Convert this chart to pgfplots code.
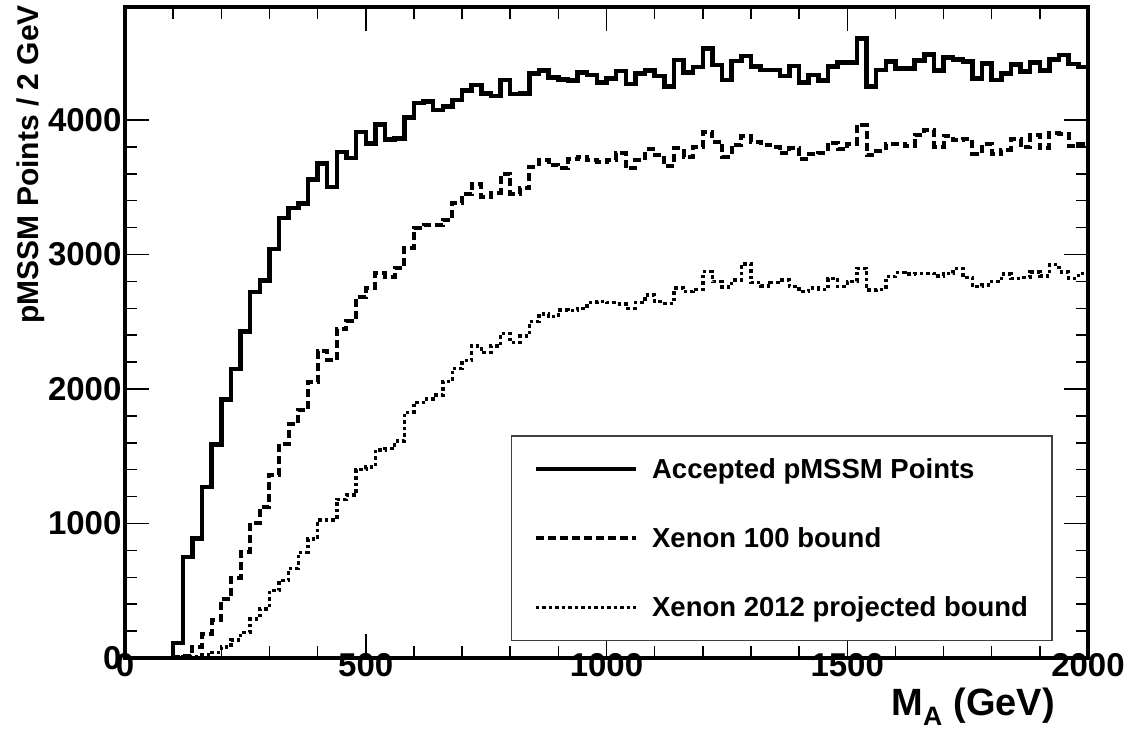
\documentclass[border=0pt]{standalone}
\usepackage{fontspec}
\setmainfont{Liberation Sans}
\usepackage{pgfplots}
\usepackage{pgfplotstable}
\pgfplotsset{compat=1.18}
\pgfplotstableread{
x s d t
0 0 0 0
20 0 0 0
40 0 0 0
60 0 0 0
80 0 0 0
100 110 5 5
120 750 15 10
140 890 82 12
160 1270 176 22
180 1588 284 42
200 1921 442 80
220 2148 592 135
240 2427 789 190
260 2721 1003 290
280 2805 1123 365
300 3041 1361 500
320 3272 1592 578
340 3346 1737 666
360 3380 1843 785
380 3557 2049 884
400 3675 2283 1027
420 3502 2216 1027
440 3761 2443 1180
460 3718 2505 1210
480 3911 2684 1400
500 3825 2750 1420
520 3966 2862 1548
540 3855 2836 1556
560 3861 2897 1612
580 4018 3050 1826
600 4126 3200 1900
620 4136 3219 1927
640 4076 3219 1955
660 4102 3256 2055
680 4149 3385 2154
700 4218 3450 2211
720 4260 3524 2320
740 4198 3430 2270
760 4178 3460 2320
780 4297 3599 2414
800 4193 3450 2344
820 4198 3492 2394
840 4347 3653 2501
860 4367 3703 2558
880 4317 3665 2538
900 4302 3641 2587
920 4292 3708 2582
940 4352 3723 2600
960 4335 3703 2642
980 4278 3690 2650
1000 4310 3703 2642
1020 4364 3752 2632
1040 4268 3641 2600
1060 4347 3703 2642
1080 4367 3782 2699
1100 4327 3740 2650
1120 4248 3658 2637
1140 4446 3790 2749
1160 4352 3728 2724
1180 4392 3802 2741
1200 4532 3913 2872
1220 4409 3839 2798
1240 4297 3728 2760
1260 4437 3815 2810
1280 4476 3881 2929
1300 4397 3839 2791
1320 4372 3815 2766
1340 4372 3797 2791
1360 4327 3752 2810
1380 4402 3790 2761
1400 4280 3708 2724
1420 4335 3747 2749
1440 4292 3757 2741
1460 4397 3831 2823
1480 4426 3782 2761
1500 4426 3822 2798
1520 4607 3963 2897
1540 4248 3740 2736
1560 4372 3772 2741
1580 4434 3822 2835
1600 4384 3822 2865
1620 4384 3807 2855
1640 4441 3889 2860
1660 4488 3926 2860
1680 4367 3802 2840
1700 4466 3881 2860
1720 4451 3851 2897
1740 4434 3856 2830
1760 4310 3747 2761
1780 4421 3822 2773
1800 4297 3747 2798
1820 4347 3777 2855
1840 4414 3856 2823
1860 4359 3797 2830
1880 4426 3889 2870
1900 4367 3790 2840
1920 4451 3901 2924
1940 4483 3896 2870
1960 4416 3807 2823
1980 4392 3822 2860
2000 4392 3822 2860
}\data
\begin{document}
\begin{tikzpicture}
\begin{axis}[
  scale only axis,
  width=963pt, height=651pt,
  xmin=0, xmax=2000, ymin=0, ymax=4840,
  xtick={0,500,...,2000}, ytick={0,1000,...,4000},
  minor x tick num=4, minor y tick num=4,
  major tick length=24pt, minor tick length=12pt,
  tick align=inside,
  tick style={line width=1.5pt, black},
  axis line style={line width=4pt},
  scaled ticks=false,
  /pgf/number format/1000 sep={},
  /pgf/number format/assume math mode=true,
  ticklabel style={font=\fontsize{33}{36}\selectfont\bfseries},
  xticklabel style={yshift=8pt},
  xlabel={M\textsubscript{A} (GeV)},
  xlabel style={at={(axis description cs:0.9657,-0.046)}, anchor=north east, inner sep=0pt, font=\fontsize{38}{40}\selectfont\bfseries},
  ylabel={pMSSM Points / 2 GeV},
  ylabel style={at={(axis description cs:-0.083,1.003)}, anchor=south east, rotate=0, inner sep=0pt, font=\fontsize{30}{32}\selectfont\bfseries},
  legend style={at={(axis description cs:0.4008,0.026)}, anchor=south west,
    draw=black!75, line width=1.3pt, fill=white,
    font=\fontsize{27.5}{30}\selectfont\bfseries,
    row sep=44pt, inner xsep=22pt, inner ysep=20pt},
  legend cell align=left,
  legend image code/.code={\draw[#1] (0pt,0pt) -- (100pt,0pt);},
  /tikz/every odd column/.append style={column sep=12pt},
]
\addplot[const plot, black, line width=4.5pt] table[x=x, y=s]{\data};
\addlegendentry{Accepted pMSSM Points}
\addplot[const plot, black, line width=4pt, dash pattern=on 8pt off 4pt] table[x=x, y=d]{\data};
\addlegendentry{Xenon 100 bound}
\addplot[const plot, black, line width=3.5pt, dash pattern=on 3.5pt off 3pt] table[x=x, y=t]{\data};
\addlegendentry{Xenon 2012 projected bound}
\coordinate (O) at (rel axis cs:0,0);
\end{axis}
\pgfresetboundingbox
\path[use as bounding box] (O) ++(-125pt,-73pt) rectangle ++(1141pt,731pt);
\end{tikzpicture}
\end{document}
